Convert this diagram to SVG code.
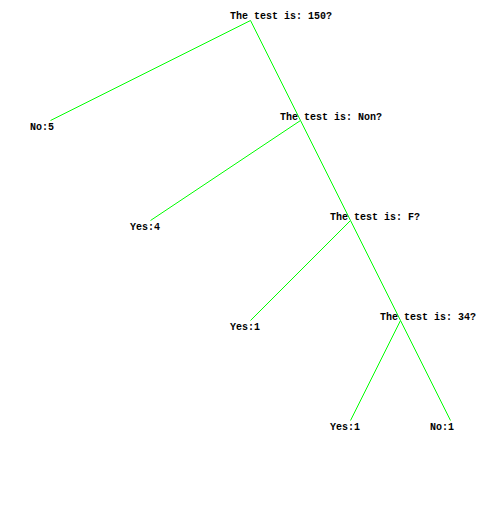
<svg xmlns="http://www.w3.org/2000/svg" width="500" height="520" viewBox="0 0 500 520">
<style>
text{font-family:"Liberation Mono","DejaVu Sans Mono",monospace;font-size:10px;font-weight:bold;fill:#000}
.e{stroke:#00ff00;stroke-width:1;fill:none}
</style>
<rect width="500" height="520" fill="#fff"/>
<g id="connectors">
<line class="e" x1="250.5" y1="20.5" x2="50.5" y2="120.5"/>
<line class="e" x1="250.5" y1="20.5" x2="300.5" y2="120.5"/>
<line class="e" x1="300.5" y1="120.5" x2="150.5" y2="220.5"/>
<line class="e" x1="300.5" y1="120.5" x2="350.5" y2="220.5"/>
<line class="e" x1="350.5" y1="220.5" x2="250.5" y2="320.5"/>
<line class="e" x1="350.5" y1="220.5" x2="400.5" y2="320.5"/>
<line class="e" x1="400.5" y1="320.5" x2="350.5" y2="420.5"/>
<line class="e" x1="400.5" y1="320.5" x2="450.5" y2="420.5"/>
</g>
<g id="n1"><text x="230" y="19">The test is: 150?</text></g>
<g id="n2"><text x="30" y="130">No:5</text></g>
<g id="n3"><text x="280" y="120">The test is: Non?</text></g>
<g id="n4"><text x="130" y="230">Yes:4</text></g>
<g id="n5"><text x="330" y="220">The test is: F?</text></g>
<g id="n6"><text x="230" y="330">Yes:1</text></g>
<g id="n7"><text x="380" y="320">The test is: 34?</text></g>
<g id="n8"><text x="330" y="430">Yes:1</text></g>
<g id="n9"><text x="430" y="430">No:1</text></g>
</svg>
